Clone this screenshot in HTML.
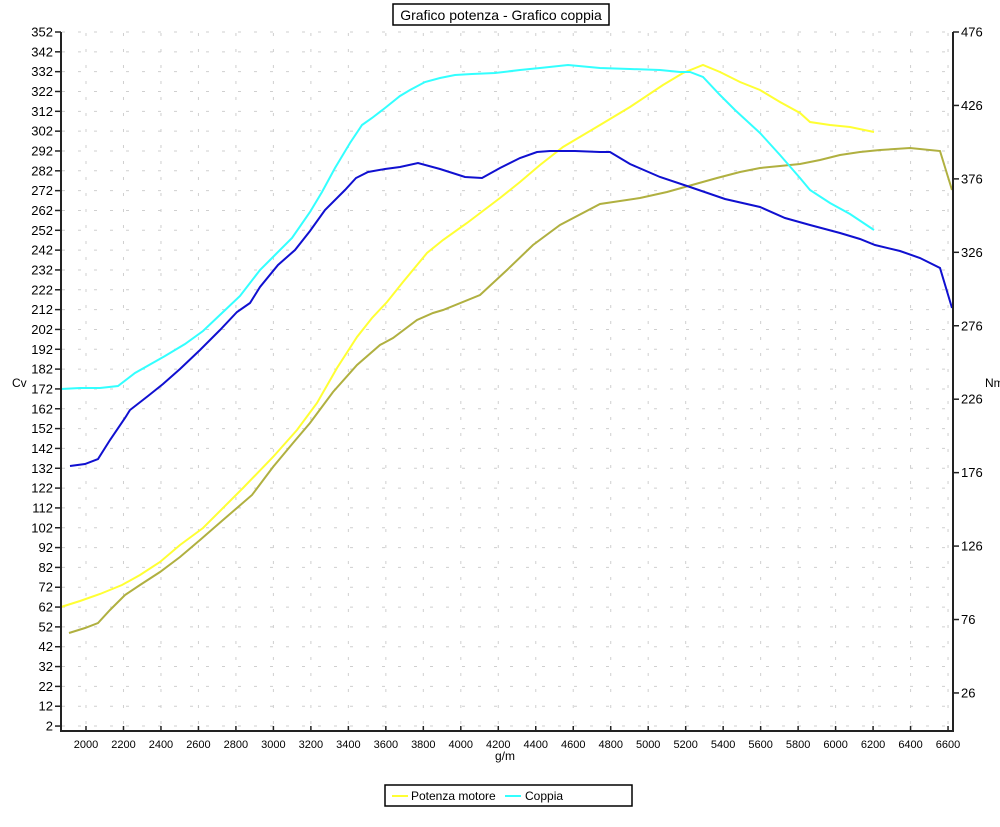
<!DOCTYPE html>
<html><head><meta charset="utf-8"><style>
body{margin:0;background:#fff;}
text{font-family:"Liberation Sans",sans-serif;fill:#000;}
</style></head><body>
<svg width="1000" height="822" xmlns="http://www.w3.org/2000/svg">
<rect width="1000" height="822" fill="#fff"/>
<g id="grid" stroke="#cfcfcf" stroke-width="1" stroke-dasharray="3,13"></g>
<g id="ticks"></g>
<polyline fill="none" stroke="#b0b040" stroke-width="2" points="69,633 85,628 98,623 110,610 125,595 140,585 160,572 180,557 200,540 223,520 252,495 273,467 293,443 310,423 333,392 357,365 380,345 393,338 417,320 433,313 443,310 480,295 507,270 533,245 560,225 600,204 640,198 667,192 717,178 740,172 760,168 780,166 800,164 820,160 840,155 860,152 880,150 910,148 940,151 952,190"/>
<polyline fill="none" stroke="#ffff33" stroke-width="2" points="61,607 80,601 100,594 122,585 140,575 160,562 180,545 203,528 243,488 273,457 297,430 317,403 337,368 357,337 372,318 387,302 403,282 427,253 443,240 467,223 500,198 520,182 540,165 563,147 600,125 630,107 663,85 683,73 703,65 720,72 740,82 760,90 780,102 800,113 810,122 830,125 850,127 874,132"/>
<polyline fill="none" stroke="#33ffff" stroke-width="2" points="61,389 80,388 100,388 118,386 135,373 165,356 185,344 203,331 222,313 240,296 260,270 275,255 292,238 310,212 322,192 335,168 350,143 362,125 372,118 385,108 400,96 410,90 425,82 440,78 455,75 472,74 495,73 520,70 540,68 568,65 600,68 630,69 660,70 680,72 690,72 703,77 720,95 735,110 760,133 780,155 800,178 810,190 830,203 850,214 874,230"/>
<polyline fill="none" stroke="#1010d0" stroke-width="2" points="70,466 85,464 98,459 110,440 125,418 130,410 148,396 163,384 180,369 200,350 220,330 237,312 250,303 260,287 278,265 295,250 310,231 325,210 345,190 356,178 368,172 385,169 400,167 418,163 440,169 465,177 482,178 500,168 520,158 537,152 550,151 575,151 600,152 610,152 630,164 660,177 690,187 725,199 760,207 785,218 810,225 840,233 860,239 875,245 900,251 920,258 940,268 952,308"/>
<g stroke="#222" stroke-width="2" fill="none">
<line x1="61" y1="32" x2="61" y2="732"/>
<line x1="953" y1="32" x2="953" y2="732"/>
<line x1="60" y1="731" x2="954" y2="731"/>
</g>
<rect x="393" y="4" width="216" height="21" fill="#fff" stroke="#000" stroke-width="1.5"/>
<text x="501" y="20" font-size="14" text-anchor="middle">Grafico potenza - Grafico coppia</text>
<text x="12" y="387" font-size="12">Cv</text>
<text x="985" y="387" font-size="12">Nm</text>
<text x="505" y="760" font-size="12" text-anchor="middle">g/m</text>
<rect x="385" y="785" width="247" height="21" fill="#fff" stroke="#000" stroke-width="1.5"/>
<line x1="392" y1="796" x2="408" y2="796" stroke="#ffff33" stroke-width="2"/>
<text x="411" y="800" font-size="12">Potenza motore</text>
<line x1="505" y1="796" x2="521" y2="796" stroke="#33ffff" stroke-width="2"/>
<text x="525" y="800" font-size="12">Coppia</text>
</svg>
<script>
var ns="http://www.w3.org/2000/svg",g=document.getElementById('grid'),t=document.getElementById('ticks');
function el(p,n,a){var e=document.createElementNS(ns,n);for(var k in a)e.setAttribute(k,a[k]);p.appendChild(e);return e;}
for(var i=0;i<=35;i++){var y=32+i*19.83;var v=352-i*10;
 el(g,'line',{x1:62,y1:y,x2:952,y2:y});
 el(t,'line',{x1:55,y1:y,x2:61,y2:y,stroke:'#222','stroke-width':1.5});
 var tx=el(t,'text',{x:53,y:y+4.5,'font-size':13,'text-anchor':'end'});tx.textContent=v;}
for(var i=0;i<=23;i++){var x=86+i*37.48;var v=2000+i*200;
 el(g,'line',{x1:x,y1:33,x2:x,y2:730});
 el(t,'line',{x1:x,y1:726,x2:x,y2:731,stroke:'#222','stroke-width':1.5});
 var tx=el(t,'text',{x:x,y:748,'font-size':11,'text-anchor':'middle'});tx.textContent=v;}
for(var i=0;i<=9;i++){var y=32+i*73.44;var v=476-i*50;
 el(t,'line',{x1:953,y1:y,x2:959,y2:y,stroke:'#222','stroke-width':1.5});
 var tx=el(t,'text',{x:961,y:y+4.5,'font-size':13});tx.textContent=v;}
</script>
</body></html>
